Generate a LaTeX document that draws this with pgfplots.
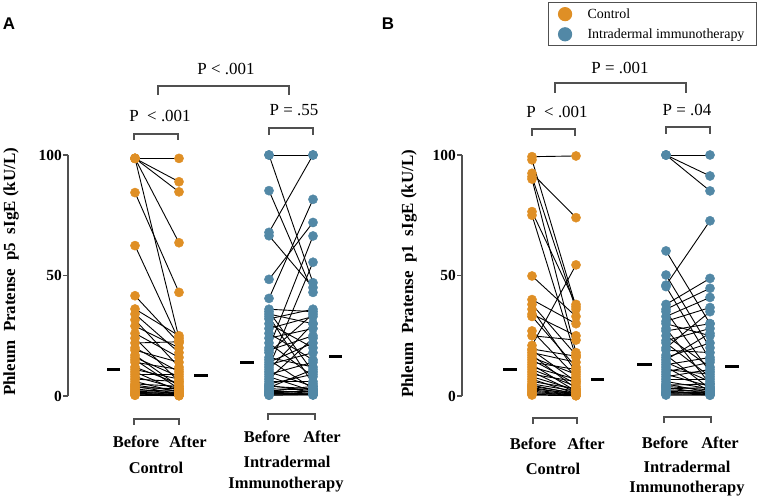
\documentclass[border=0pt]{standalone}
\usepackage{fontspec}
\setmainfont{Liberation Serif}
\newfontfamily\panelfont{Liberation Sans}
\usepackage{pgfplots}
\usepackage{pgfplotstable}
\pgfplotsset{compat=1.18}
\definecolor{ctrl}{RGB}{223,143,37}
\definecolor{idit}{RGB}{82,136,166}
\definecolor{axgray}{RGB}{80,80,80}

% paired sIgE values, b = before, a = after
\pgfplotstableread{
b a
98.6 98.6
98.6 88.9
98.6 84.7
98.6 63.6
98.6 24
84.4 43
62.4 23
41.6 22
36.1 25
34 18
31.6 12
29 20
26 16
24 6
22 22.5
20 10
19 14
17 4
16 8
15 3
14 11
12 5
11 7
10 2
9 9
8 3
7 6
6 1.5
5 4
4.5 2
4 1
3.5 3
3 0.8
2.5 2
2 1.2
1.8 0.5
1.5 1
1.2 0.3
1 0.6
0.8 0.4
0.5 0.2
0.3 0.1
}\ctrlA

\pgfplotstableread{
b a
100 100
100 47
85.2 43
67.9 100
66.5 45
48.4 72
40.5 81.6
20 66.4
12 55.5
36 35
35 10
34 30
33 5
32 36
30 20
28 33
26 15
24 28
22 8
19 25
18 34
16 12
15 3
14 22
13 18
11 30
10 4
9 14
8 2
7 24
6 6
5 9
4.5 1.5
4 3
3.5 11
3 2.5
2.5 1
2 4
1.8 1.8
1.5 0.8
1.2 2.2
1 1.2
0.8 0.5
0.5 0.4
0.3 0.6
}\iditA

\pgfplotstableread{
b a
99.3 99.6
98 37
92.4 74
91 36
90 18
76.5 38
75 16
49.8 33
40 30
38 17
36 10
34 25
33 12
27 8
25 23.2
21 54.4
19.5 16.5
19 6
18 14
17 3
16 9
15 5
14 11
13 2
12 7
11 4
10 1.5
9 6
8 2.5
7 1
6 3
5 2
4.5 0.8
4 1.2
3.5 0.5
3 1
2.5 0.6
2 0.4
1.5 0.3
1 0.5
0.7 0.2
0.4 0.1
}\ctrlB

\pgfplotstableread{
b a
100 100
100 91.3
100 85.1
46 72.7
60.2 30
50.2 20
45.4 15
38 48.8
36 44.7
35 10
33 40.9
31 36.7
30 25
28 5
27 30
25 12
23 28
22 8
20 35
19 18
17 3
16 22
15 26
14 6
13 16
12 2
11 9
10 14
9 4
8 11
7 7
6 3
5 1.5
4.5 5
4 2.5
3.5 1
3 3.5
2.5 2
2 1.2
1.5 0.8
1.2 1.8
1 0.5
0.7 1
0.4 0.3
}\iditB

\newcommand{\pairs}[4]{%
  \addplot[black, line width=0.9bp, forget plot,
    quiver={u=#3-#2, v=\thisrow{a}-\thisrow{b}}] table[x expr=#2, y=b] {#1};
  \addplot[only marks, mark=*, mark size=4.6bp, draw=#4, fill=#4, forget plot]
    table[x expr=#2, y=b] {#1};
  \addplot[only marks, mark=*, mark size=4.6bp, draw=#4, fill=#4, forget plot]
    table[x expr=#3, y=a] {#1};
}

\pgfplotsset{pairaxis/.style={
  scale only axis, clip=false,
  ymin=0, ymax=100, height=241bp,
  axis x line=none, axis y line*=left,
  ytick={0,50,100}, yticklabels={0,50,100},
  tick align=outside, major tick length=5bp,
  y axis line style={axgray, line width=1.2bp},
  ytick style={axgray, line width=1.2bp},
  yticklabel style={font=\fontsize{15.5}{17}\selectfont\bfseries, inner sep=1bp},
}}

\begin{document}
\begin{tikzpicture}
\useasboundingbox (0,0) rectangle (759bp,499bp);

\begin{axis}[pairaxis, at={(68bp,103bp)}, anchor=south west,
  xmin=68, xmax=370, width=302bp]
  \pairs{\ctrlA}{135}{179}{ctrl}
  \pairs{\iditA}{269}{313}{idit}
  \addplot[black, line width=3bp, forget plot] coordinates {(107,11.2) (120,11.2)};
  \addplot[black, line width=3bp, forget plot] coordinates {(194,8.3) (208,8.3)};
  \addplot[black, line width=3bp, forget plot] coordinates {(240,13.7) (254,13.7)};
  \addplot[black, line width=3bp, forget plot] coordinates {(329,16.2) (342,16.2)};
\end{axis}

\begin{axis}[pairaxis, at={(462bp,103bp)}, anchor=south west,
  xmin=462, xmax=759, width=297bp,
  legend style={at={(0.9933,1.635)}, anchor=north east, draw=axgray,
    line width=1.2bp, fill=white, font=\fontsize{14}{16}\selectfont,
    inner xsep=10bp, inner ysep=4bp, row sep=5bp,
    /tikz/every odd column/.append style={column sep=14bp}},
  legend cell align=left]
  \addlegendimage{only marks, mark=*, mark size=6.5bp, draw=ctrl, fill=ctrl}
  \addlegendentry{Control}
  \addlegendimage{only marks, mark=*, mark size=6.5bp, draw=idit, fill=idit}
  \addlegendentry{Intradermal immunotherapy}
  \pairs{\ctrlB}{532}{576}{ctrl}
  \pairs{\iditB}{666}{710}{idit}
  \addplot[black, line width=3bp, forget plot] coordinates {(503,11.2) (517,11.2)};
  \addplot[black, line width=3bp, forget plot] coordinates {(591,7) (604,7)};
  \addplot[black, line width=3bp, forget plot] coordinates {(637,13) (652,13)};
  \addplot[black, line width=3bp, forget plot] coordinates {(725,12.4) (739,12.4)};
\end{axis}

\begin{scope}[x=1bp, y=-1bp, yshift=499bp]
  \node[font=\panelfont\bfseries\fontsize{17}{19}\selectfont] at (9,24) {A};
  \node[font=\panelfont\bfseries\fontsize{17}{19}\selectfont] at (388,24) {B};
  \node[rotate=90, font=\fontsize{17}{19}\selectfont\bfseries] at (11,272)
    {Phleum\ \ Pratense\ \ p5\ \ sIgE\ (kU/L)};
  \node[rotate=90, font=\fontsize{17}{19}\selectfont\bfseries] at (409,274)
    {Phleum\ \ Pratense\ \ p1\ \ sIgE\ (kU/L)};

  \begin{scope}[axgray, line width=1.2bp]
    % significance brackets
    \draw (158,95) -- (158,86) -- (289,86) -- (289,95);
    \draw (134,140) -- (134,134) -- (178,134) -- (178,140);
    \draw (269,135) -- (269,128) -- (313,128) -- (313,135);
    \draw (555,93) -- (555,83) -- (686,83) -- (686,93);
    \draw (532,136) -- (532,129) -- (575,129) -- (575,136);
    \draw (666,134) -- (666,127) -- (710,127) -- (710,134);
    % group axes
    \draw (134,425) -- (134,419) -- (179,419) -- (179,425);
    \draw (268,420) -- (268,414) -- (315,414) -- (315,420);
    \draw (533,424) -- (533,418) -- (577,418) -- (577,424);
    \draw (664,423) -- (664,417) -- (711,417) -- (711,423);
  \end{scope}

  \begin{scope}[font=\fontsize{17}{19}\selectfont]
    \node at (226,69) {P < .001};
    \node at (160,116) {P\ \ < .001};
    \node at (294,110) {P = .55};
    \node at (620,68) {P = .001};
    \node at (557,112) {P\ \ < .001};
    \node at (687,110) {P = .04};
  \end{scope}

  \begin{scope}[font=\fontsize{16.5}{18}\selectfont\bfseries]
    \node at (136,442) {Before};
    \node at (188,442) {After};
    \node at (156,468) {Control};
    \node at (267,437) {Before};
    \node at (322,437) {After};
    \node at (287,462) {Intradermal};
    \node at (286,485) {Immunotherapy};
    \node at (533,444) {Before};
    \node at (586,444) {After};
    \node at (553,469) {Control};
    \node at (665,443) {Before};
    \node at (720,443) {After};
    \node at (687,467) {Intradermal};
    \node at (687,489) {Immunotherapy};
  \end{scope}
\end{scope}
\end{tikzpicture}
\end{document}
